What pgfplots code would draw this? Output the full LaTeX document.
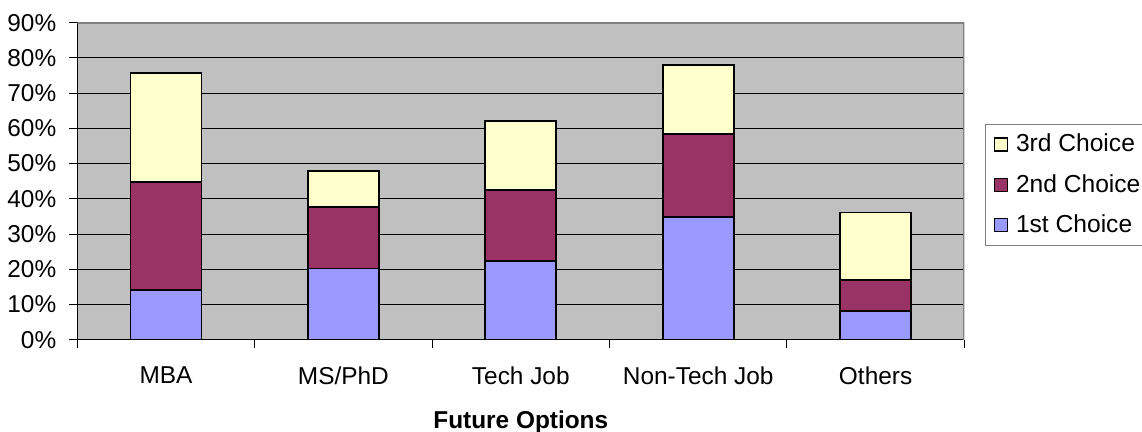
\documentclass[border=0pt]{standalone}
\usepackage{fontspec}
\setmainfont{Liberation Sans}
\usepackage{pgfplots}
\pgfplotsset{compat=1.18}
\definecolor{cFirst}{HTML}{9999FF}
\definecolor{cSecond}{HTML}{993366}
\definecolor{cThird}{HTML}{FFFFCC}
\definecolor{cBg}{HTML}{C0C0C0}
\definecolor{cFrame}{HTML}{808080}
\begin{document}
\begin{tikzpicture}
\path[use as bounding box] (0,0) rectangle (571pt,216pt);
\begin{axis}[
  at={(38.65pt,46.15pt)}, anchor=south west,
  scale only axis, width=443.5pt, height=158.5pt,
  ybar stacked, bar width=35.5pt,
  xmin=-0.5, xmax=4.5, ymin=0, ymax=90,
  xtick={0,1,2,3,4},
  xticklabels={MBA,MS/PhD,Tech Job,Non-Tech Job,Others},
  minor xtick={-0.5,0.5,1.5,2.5,3.5,4.5},
  ytick={0,10,...,90},
  yticklabels={0\%,10\%,20\%,30\%,40\%,50\%,60\%,70\%,80\%,90\%},
  tick align=outside, major tick length=4pt, minor tick length=4pt,
  major x tick style={draw=none},
  minor x tick style={draw=black, line width=0.5pt},
  major y tick style={draw=black, line width=0.5pt},
  ymajorgrids, major grid style={black, line width=0.5pt},
  axis x line*=bottom, axis y line*=left,
  axis line style={-, black, line width=0.6pt},
  axis background/.style={fill=cBg},
  tick label style={font=\fontsize{12.2}{14}\selectfont},
  xticklabel style={anchor=north, yshift=-6pt},
  yticklabel style={anchor=east, xshift=-3pt},
  xlabel={\bfseries Future Options},
  xlabel style={font=\fontsize{12.2}{14}\selectfont, at={(axis description cs:0.5,0)}, anchor=north, yshift=-32pt},
  reverse legend,
  legend style={at={(rel axis cs:1.0237,0.6815)}, anchor=north west, draw=cFrame, line width=0.5pt, fill=white,
    font=\fontsize{12.3}{14}\selectfont, row sep=5.6pt, inner xsep=4pt, inner ysep=3pt, cells={anchor=west},
    /tikz/every odd column/.append style={column sep=2pt}},
  legend image code/.code={\draw[#1, line width=0.6pt] (0pt,-3.25pt) rectangle (6.5pt,3.25pt);},
  every axis plot/.append style={draw=black, line width=0.9pt},
]
\addplot[fill=cFirst] coordinates {(0,14.1) (1,20.2) (2,22.3) (3,34.9) (4,8.1)};
\addplot[fill=cSecond] coordinates {(0,30.7) (1,17.4) (2,20.2) (3,23.4) (4,8.9)};
\addplot[fill=cThird] coordinates {(0,31.0) (1,10.3) (2,19.7) (3,19.6) (4,19.1)};
\legend{1st Choice,2nd Choice,3rd Choice}
\draw[cFrame, line width=0.8pt] (rel axis cs:0,1) -- (rel axis cs:1,1) -- (rel axis cs:1,0);
\end{axis}
\end{tikzpicture}
\end{document}
